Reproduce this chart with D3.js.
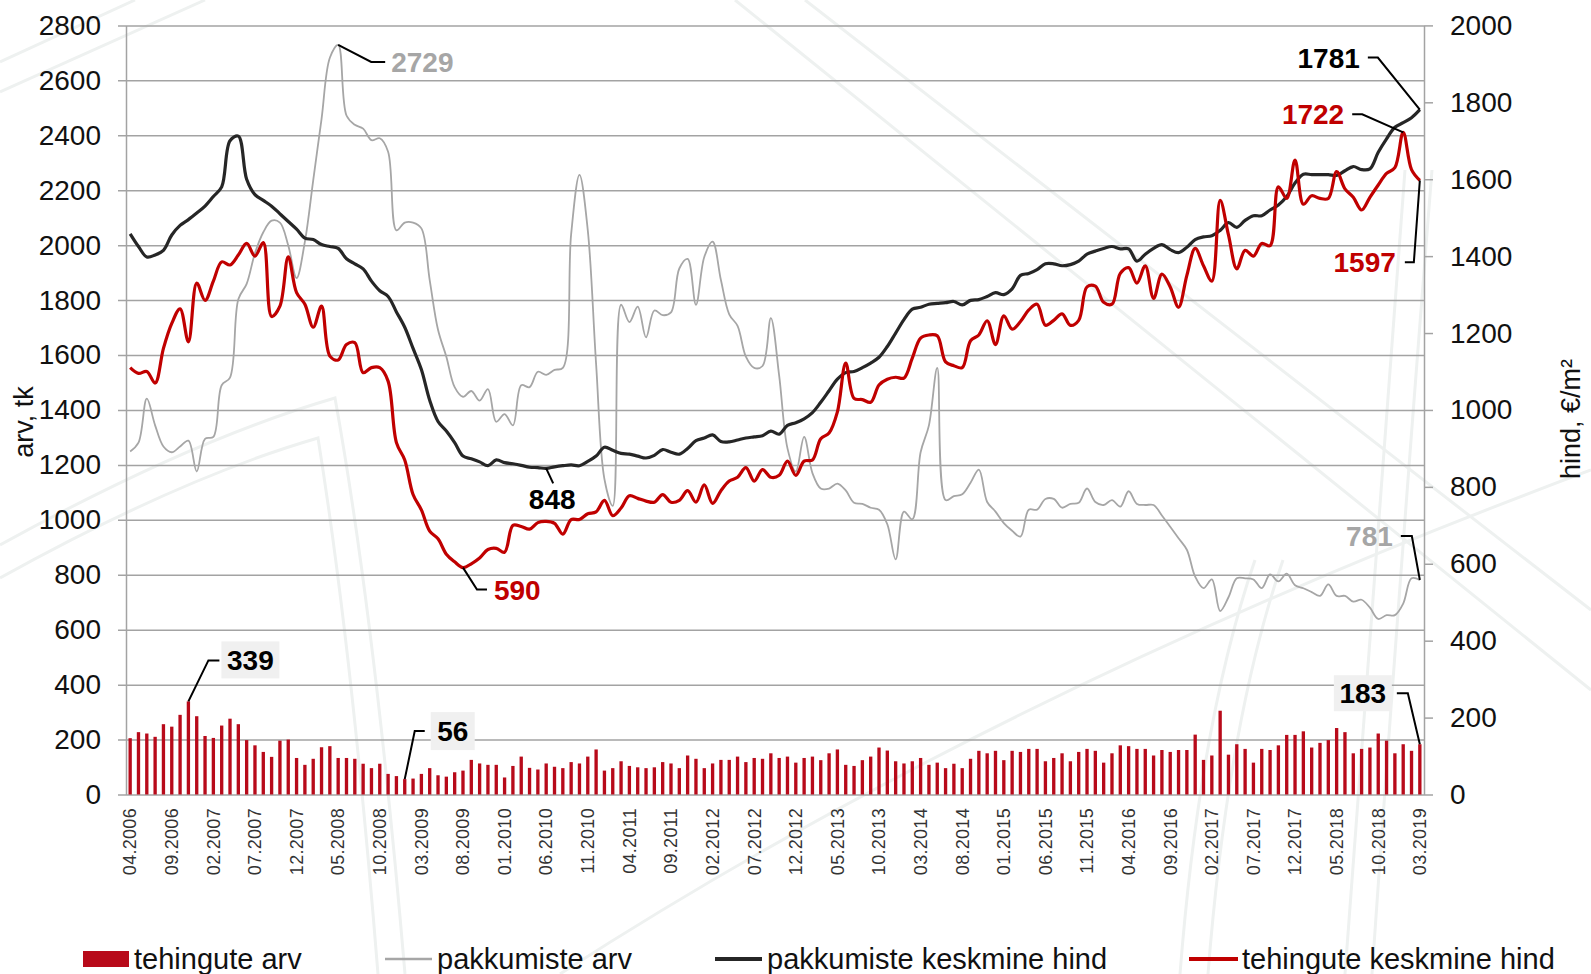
<!DOCTYPE html>
<html>
<head>
<meta charset="utf-8">
<script src="https://cdn.jsdelivr.net/npm/d3@7"></script>
<style>
  body { margin: 0; background: #fff; }
  svg { display: block; font-family: "Liberation Sans", Arial, sans-serif; }
</style>
</head>
<body>
<svg width="1591" height="974"></svg>
<script>
// months 04.2006 .. 03.2019
const months = [];
for (let y = 2006, m = 4; y < 2019 || m <= 3; ) {
  months.push(String(m).padStart(2, "0") + "." + y);
  m++;
  if (m > 12) { m = 1; y++; }
}

// tehingute arv (bars, left axis)
const dealsCount = [
  205,227,222,210,256,247,290,339,285,213,
  206,251,276,256,198,179,155,137,196,200,
  133,108,130,172,176,133,133,130,112,96,
  112,75,67,56,58,75,96,70,65,81,
  87,126,113,108,108,62,104,138,97,91,
  113,101,96,118,113,138,164,87,96,121,
  104,99,96,99,118,113,96,142,130,96,
  113,126,126,138,118,133,130,150,133,138,
  116,133,138,125,150,164,108,104,125,138,
  171,160,121,113,121,133,108,116,96,112,
  96,130,159,150,159,125,159,155,166,166,
  121,133,150,121,155,166,159,116,150,179,
  176,166,166,142,162,155,162,162,218,126,
  142,305,145,183,166,116,166,162,179,217,
  217,230,171,188,198,242,227,150,166,171,
  222,196,150,183,159,183
];

// pakkumiste arv (grey line, left axis)
const offersCount = [
  1249,1281,1441,1344,1267,1246,1267,1288,1176,1295,
  1302,1490,1518,1803,1859,1971,2047,2089,2082,1999,
  1880,2013,2236,2459,2682,2729,2472,2438,2424,2382,
  2389,2340,2054,2082,2082,2061,1873,1692,1594,1483,
  1448,1469,1434,1476,1357,1385,1344,1490,1483,1539,
  1528,1546,1553,2040,2256,2054,1567,1148,1051,1783,
  1720,1776,1664,1762,1745,1755,1915,1950,1783,1957,
  2013,1873,1748,1706,1594,1553,1560,1734,1525,1260,
  1176,1302,1170,1114,1114,1132,1107,1062,1058,1044,
  1037,984,856,1030,1002,1246,1344,1553,1072,1086,
  1093,1135,1183,1065,1030,988,960,939,1037,1037,
  1076,1076,1044,1058,1062,1114,1065,1054,1072,1048,
  1104,1058,1054,1054,1016,975,933,891,793,751,
  783,668,718,787,787,783,751,801,776,804,
  762,751,737,723,765,723,723,702,709,680,
  639,653,653,695,787,781
];

// pakkumiste keskmine hind (black line, right axis)
const offersPrice = [
  1458,1425,1398,1403,1415,1455,1480,1495,1512,1530,
  1555,1580,1700,1712,1600,1560,1545,1530,1510,1490,
  1470,1447,1443,1430,1425,1420,1393,1380,1367,1335,
  1310,1295,1255,1215,1160,1105,1025,970,945,915,
  880,873,865,855,870,863,860,856,851,850,
  848,852,855,857,855,866,880,903,895,887,
  885,880,875,882,897,890,885,900,920,927,
  935,918,917,922,927,930,933,945,937,960,
  967,977,993,1020,1050,1080,1097,1100,1110,1122,
  1137,1165,1200,1235,1262,1267,1275,1277,1279,1282,
  1273,1285,1287,1295,1305,1300,1315,1350,1355,1365,
  1380,1380,1375,1378,1387,1405,1413,1420,1425,1419,
  1419,1387,1405,1420,1430,1417,1409,1423,1443,1450,
  1453,1467,1487,1475,1493,1505,1505,1520,1533,1555,
  1590,1613,1612,1612,1612,1610,1622,1633,1625,1627,
  1670,1705,1735,1747,1760,1781
];

// tehingute keskmine hind (red line, right axis)
const dealsPrice = [
  1110,1095,1100,1070,1160,1225,1263,1177,1330,1285,
  1335,1385,1377,1403,1433,1400,1435,1243,1270,1398,
  1305,1275,1215,1270,1140,1130,1170,1175,1097,1110,
  1110,1075,915,870,780,740,685,665,625,605,
  590,600,615,637,640,630,700,697,690,707,
  710,705,677,715,715,730,735,765,725,745,
  777,770,763,760,780,760,765,790,760,805,
  757,790,815,825,850,815,845,825,830,867,
  830,867,870,925,940,995,1122,1030,1027,1020,
  1065,1080,1085,1083,1135,1187,1195,1193,1125,1115,
  1110,1180,1195,1232,1170,1245,1210,1230,1260,1275,
  1220,1233,1250,1220,1233,1320,1322,1280,1275,1355,
  1370,1330,1375,1290,1353,1320,1267,1350,1420,1375,
  1335,1545,1455,1367,1415,1400,1433,1427,1580,1550,
  1650,1535,1557,1550,1550,1620,1575,1553,1520,1553,
  1585,1615,1630,1722,1625,1597
];

const leftTicks = d3.range(0, 2801, 200);
const rightTicks = d3.range(0, 2001, 200);

const legendItems = ["tehingute arv", "pakkumiste arv", "pakkumiste keskmine hind", "tehingute keskmine hind"];

const RED = "#c00000", BAR = "#b80a1a", BLACK = "#262626", GREY = "#a6a6a6", GRID = "#a3a3a3";

const svg = d3.select("svg");
const plotL = 126, plotR = 1424, plotT = 25.4, plotB = 794.5;

// faint background ornament
const deco = svg.append("g").attr("fill", "none").attr("stroke", "#eef1f0").attr("stroke-width", 3);
[
  "M0,545 Q190,440 335,398 Q375,620 405,974",
  "M0,578 Q180,478 318,438 Q352,650 378,974",
  "M0,62 L135,0", "M0,92 L205,0",
  "M735,0 L1591,690", "M805,0 L1591,610",
  "M1180,974 Q1200,720 1255,560", "M1208,974 Q1228,720 1283,560",
  "M1345,974 Q1372,600 1405,170", "M1372,974 Q1398,600 1432,170",
  "M560,974 Q1000,690 1591,470"
].forEach(d => deco.append("path").attr("d", d));

const x = d3.scaleBand().domain(months).range([plotL, plotR]).paddingInner(0.6).paddingOuter(0.3);
const cx = i => x(months[i]) + x.bandwidth() / 2;
const yL = d3.scaleLinear().domain([0, 2800]).range([plotB, plotT]);
const yR = d3.scaleLinear().domain([0, 2000]).range([plotB, plotT]);

// left axis + gridlines
const gL = svg.append("g")
  .attr("transform", `translate(${plotL},0)`)
  .call(d3.axisLeft(yL).tickValues(leftTicks).tickFormat(d3.format("d"))
    .tickSizeInner(-(plotR - plotL)).tickSizeOuter(0).tickPadding(25));
gL.selectAll(".tick line").attr("x1", -8).attr("stroke", GRID).attr("stroke-width", 1.5);
gL.select(".domain").attr("stroke", GRID).attr("stroke-width", 1.5);
gL.selectAll(".tick text").attr("font-size", 28).attr("fill", "#111").attr("font-family", "Liberation Sans, Arial, sans-serif");

// right axis
const gR = svg.append("g")
  .attr("transform", `translate(${plotR},0)`)
  .call(d3.axisRight(yR).tickValues(rightTicks).tickFormat(d3.format("d"))
    .tickSizeInner(9).tickSizeOuter(0).tickPadding(17));
gR.selectAll(".tick line").attr("stroke", GRID).attr("stroke-width", 1.5);
gR.select(".domain").attr("stroke", GRID).attr("stroke-width", 1.5);
gR.selectAll(".tick text").attr("font-size", 28).attr("fill", "#111").attr("font-family", "Liberation Sans, Arial, sans-serif");

// x labels, every 5th month
svg.append("g").selectAll("text")
  .data(months.filter((d, i) => i % 5 === 0))
  .join("text")
  .attr("transform", d => `translate(${x(d) + x.bandwidth() / 2},808) rotate(-90)`)
  .attr("text-anchor", "end")
  .attr("dy", "0.35em")
  .attr("font-size", 18)
  .attr("letter-spacing", 0.3)
  .attr("fill", "#333")
  .text(d => d);

// axis titles
svg.append("text")
  .attr("transform", "translate(24,422) rotate(-90)")
  .attr("text-anchor", "middle").attr("dy", "0.35em")
  .attr("font-size", 27).attr("fill", "#111")
  .text("arv, tk");
svg.append("text")
  .attr("transform", "translate(1571,419) rotate(-90)")
  .attr("text-anchor", "middle").attr("dy", "0.35em")
  .attr("font-size", 27).attr("fill", "#111")
  .text("hind, €/m²");

// bars
svg.append("g").selectAll("rect")
  .data(dealsCount)
  .join("rect")
  .attr("x", (d, i) => x(months[i]))
  .attr("width", x.bandwidth())
  .attr("y", d => yL(d))
  .attr("height", d => yL(0) - yL(d))
  .attr("fill", BAR);

// lines
const curve = d3.curveCatmullRom.alpha(0.5);
const lineL = d3.line().x((d, i) => cx(i)).y(d => yL(d)).curve(curve);
const lineR = d3.line().x((d, i) => cx(i)).y(d => yR(d)).curve(curve);

svg.append("path").datum(offersCount).attr("d", lineL)
  .attr("fill", "none").attr("stroke", GREY).attr("stroke-width", 1.8);
svg.append("path").datum(offersPrice).attr("d", lineR)
  .attr("fill", "none").attr("stroke", BLACK).attr("stroke-width", 3.2);
svg.append("path").datum(dealsPrice).attr("d", lineR)
  .attr("fill", "none").attr("stroke", RED).attr("stroke-width", 3.2);

// data labels with leader lines
const notes = [
  { s: offersCount, sc: yL, i: 25, color: GREY, pts: [[33, 17], [47, 17]], tx: 53, ty: 17, anchor: "start" },
  { s: offersPrice, sc: yR, i: 155, color: "#000", pts: [[-42, -52], [-52, -52]], tx: -60, ty: -52, anchor: "end" },
  { s: dealsPrice, sc: yR, i: 153, color: RED, pts: [[-41, -18], [-51, -18]], tx: -59, ty: -18, anchor: "end" },
  { s: dealsPrice, sc: yR, i: 155, color: RED, pts: [[-6, 82], [-15, 82]], tx: -24, ty: 82, anchor: "end" },
  { s: offersPrice, sc: yR, i: 50, color: "#000", pts: [[7, 15]], tx: 6, ty: 31, anchor: "middle" },
  { s: dealsPrice, sc: yR, i: 40, color: RED, pts: [[14, 22], [24, 22]], tx: 31, ty: 22, anchor: "start" },
  { s: offersCount, sc: yL, i: 155, color: GREY, pts: [[-8, -44], [-19, -44]], tx: -27, ty: -44, anchor: "end" },
  { s: dealsCount, sc: yL, i: 7, color: "#000", pts: [[20, -41], [31, -41]], tx: 62, ty: -41, anchor: "middle", box: [33, -60, 58, 37] },
  { s: dealsCount, sc: yL, i: 33, color: "#000", pts: [[10, -48], [20, -48]], tx: 48, ty: -48, anchor: "middle", box: [26, -67, 44, 38] },
  { s: dealsCount, sc: yL, i: 155, color: "#000", pts: [[-12, -51], [-23, -51]], tx: -57, ty: -51, anchor: "middle", box: [-86, -69, 58, 36] }
];

const gN = svg.append("g");
notes.forEach(n => {
  const px = cx(n.i), py = n.sc(n.s[n.i]);
  if (n.box) {
    gN.append("rect")
      .attr("x", px + n.box[0]).attr("y", py + n.box[1])
      .attr("width", n.box[2]).attr("height", n.box[3])
      .attr("fill", "#f0f0f0");
  }
  const pts = [[px, py]].concat(n.pts.map(p => [px + p[0], py + p[1]]));
  gN.append("path").attr("d", d3.line()(pts))
    .attr("fill", "none").attr("stroke", "#000").attr("stroke-width", 2);
  gN.append("text")
    .attr("x", px + n.tx).attr("y", py + n.ty)
    .attr("dy", "0.36em")
    .attr("text-anchor", n.anchor)
    .attr("font-size", 28).attr("font-weight", "bold")
    .attr("fill", n.color)
    .text(n.s[n.i]);
});

// legend
const lg = svg.append("g").attr("font-size", 29).attr("fill", "#111");
const legendY = 959;
lg.append("rect").attr("x", 83).attr("y", legendY - 8).attr("width", 46).attr("height", 16).attr("fill", BAR);
lg.append("line").attr("x1", 385).attr("x2", 432).attr("y1", legendY).attr("y2", legendY).attr("stroke", GREY).attr("stroke-width", 2.5);
lg.append("line").attr("x1", 715).attr("x2", 762).attr("y1", legendY).attr("y2", legendY).attr("stroke", BLACK).attr("stroke-width", 4);
lg.append("line").attr("x1", 1189).attr("x2", 1238).attr("y1", legendY).attr("y2", legendY).attr("stroke", RED).attr("stroke-width", 4);
[134, 437, 767, 1242].forEach((lx, k) => {
  lg.append("text").attr("x", lx).attr("y", legendY).attr("dy", "0.36em").text(legendItems[k]);
});
</script>
</body>
</html>
